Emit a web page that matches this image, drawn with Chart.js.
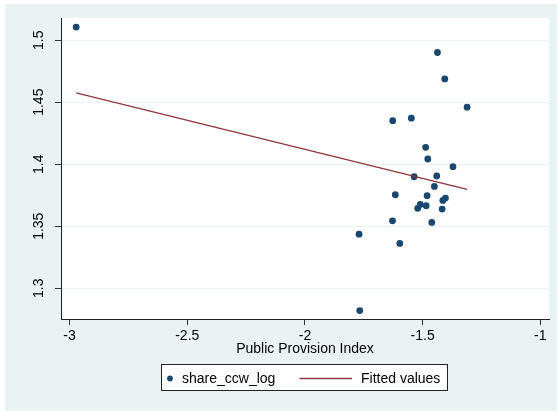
<!DOCTYPE html>
<html><head><meta charset="utf-8">
<script src="https://cdn.jsdelivr.net/npm/chart.js@4"></script>
<style>html,body{margin:0;padding:0;background:#fff}#wrap{width:559px;height:412px;position:relative}</style>
</head><body><div id="wrap"><canvas id="c" width="559" height="412"></canvas></div>
<script>
// ---- data ----
const xValues = [-2.972, -1.437, -1.406, -1.311, -1.627, -1.548, -1.487, -1.478, -1.371, -1.536, -1.440, -1.450, -1.616, -1.481, -1.403, -1.414, -1.510, -1.521, -1.485, -1.417, -1.628, -1.461, -1.770, -1.597, -1.767];
const yValues = [1.5106, 1.4901, 1.4688, 1.4460, 1.4351, 1.4371, 1.4136, 1.4042, 1.3980, 1.3899, 1.3905, 1.3821, 1.3754, 1.3746, 1.3727, 1.3708, 1.3676, 1.3644, 1.3665, 1.3638, 1.3544, 1.3531, 1.3436, 1.3361, 1.2820];
const fitX = [-2.972, -1.311];
const fitY = [1.4576, 1.3797];
const xTicks = [-3, -2.5, -2, -1.5, -1];
const xTickLabels = ['-3', '-2.5', '-2', '-1.5', '-1'];
const yTicks = [1.3, 1.35, 1.4, 1.45, 1.5];
const yTickLabels = ['1.3', '1.35', '1.4', '1.45', '1.5'];
const seriesNames = ['share_ccw_log', 'Fitted values'];
const xTitle = 'Public Provision Index';

const NAVY = '#1A476F', MAROON = '#90353B', BG = '#EAF2F3';
const FONT = "'Liberation Sans', Arial, Helvetica, sans-serif";

const bgPlugin = {
  id: 'bg',
  beforeDraw(chart) {
    const {ctx, chartArea: a} = chart;
    ctx.save();
    ctx.fillStyle = '#fff';
    ctx.fillRect(0, 0, chart.width, chart.height);
    ctx.fillStyle = BG;
    ctx.fillRect(5, 4, 552, 407);
    ctx.fillStyle = '#fff';
    ctx.fillRect(a.left, a.top, a.right - a.left, a.bottom - a.top);
    ctx.restore();
  }
};

const legendPlugin = {
  id: 'boxLegend',
  afterDraw(chart) {
    const ctx = chart.ctx;
    const ds = chart.data.datasets;
    ctx.save();
    const L = 161, T = 364, R = 448, B = 391;
    ctx.fillStyle = '#fff';
    ctx.fillRect(L, T, R - L, B - T);
    ctx.strokeStyle = '#222';
    ctx.lineWidth = 1;
    ctx.strokeRect(L + 0.5, T + 0.5, R - L - 1, B - T - 1);
    const cy = 378.5;
    ctx.fillStyle = ds[0].backgroundColor;
    ctx.beginPath(); ctx.arc(170, cy, 2.9, 0, Math.PI * 2); ctx.fill();
    ctx.strokeStyle = ds[1].borderColor;
    ctx.lineWidth = 1.3;
    ctx.beginPath(); ctx.moveTo(299.5, cy); ctx.lineTo(352, cy); ctx.stroke();
    ctx.fillStyle = '#000';
    ctx.font = '14px ' + FONT;
    ctx.textBaseline = 'middle';
    ctx.textAlign = 'left';
    ctx.fillText(ds[0].label, 182, cy + 1);
    ctx.fillText(ds[1].label, 361, cy + 1);
    ctx.restore();
  }
};

new Chart(document.getElementById('c'), {
  type: 'scatter',
  data: {
    datasets: [
      {
        label: seriesNames[0],
        data: xValues.map((x, i) => ({x, y: yValues[i]})),
        backgroundColor: NAVY,
        pointBackgroundColor: NAVY,
        pointBorderWidth: 0,
        pointRadius: 3.4,
        order: 1
      },
      {
        type: 'line',
        label: seriesNames[1],
        data: fitX.map((x, i) => ({x, y: fitY[i]})),
        borderColor: MAROON,
        backgroundColor: MAROON,
        borderWidth: 1.3,
        pointRadius: 0,
        fill: false,
        tension: 0,
        showLine: true,
        order: 0
      }
    ]
  },
  options: {
    responsive: false,
    devicePixelRatio: 1,
    animation: false,
    events: [],
    layout: {padding: {top: 18, right: 10, bottom: 53, left: 0}},
    plugins: {legend: {display: false}, tooltip: {enabled: false}},
    scales: {
      x: {
        type: 'linear', position: 'bottom',
        min: -3.0365, max: -0.963,
        afterBuildTicks: s => { s.ticks = xTicks.map(v => ({value: v})); },
        afterFit: s => { s.height = 40; },
        ticks: {
          callback: v => xTickLabels[xTicks.indexOf(v)] ?? '',
          font: {family: FONT, size: 14}, color: '#000', padding: 3,
          maxRotation: 0, autoSkip: false
        },
        grid: {drawOnChartArea: false, tickLength: 6, tickColor: '#333', color: BG},
        border: {display: true, color: '#222', width: 1},
        title: {display: true, text: xTitle, font: {family: FONT, size: 14}, color: '#000', padding: {top: 0, bottom: 1}}
      },
      y: {
        type: 'linear', position: 'left',
        min: 1.2752, max: 1.5179,
        afterBuildTicks: s => { s.ticks = yTicks.map(v => ({value: v})); },
        afterFit: s => { s.width = 61; },
        ticks: {
          callback: v => yTickLabels[yTicks.indexOf(v)] ?? '',
          font: {family: FONT, size: 14}, color: '#000',
          minRotation: 90, maxRotation: 90, crossAlign: 'center', padding: 2.4, autoSkip: false
        },
        grid: {color: BG, lineWidth: 1, tickLength: 6, tickColor: '#333'},
        border: {display: true, color: '#222', width: 1}
      }
    }
  },
  plugins: [bgPlugin, legendPlugin]
});
</script>
</body></html>
